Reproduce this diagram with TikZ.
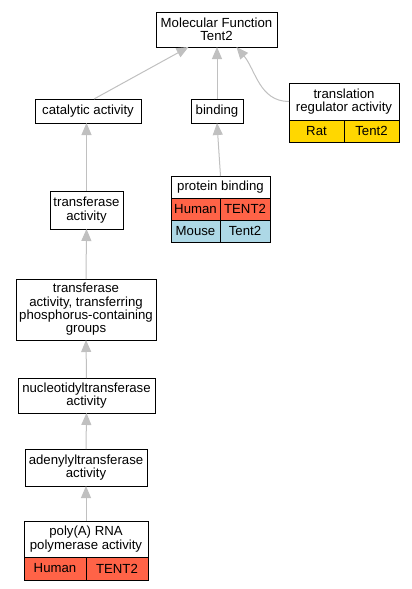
\documentclass[tikz,border=0pt]{standalone}
\usepackage{fontspec}
\setmainfont{Liberation Sans}
\usepackage{xcolor}
\usepackage{tikz}
\usetikzlibrary{positioning, arrows.meta}
\definecolor{HumanRed}{HTML}{FF6347}
\definecolor{MouseBlue}{HTML}{ADD8E6}
\definecolor{RatGold}{HTML}{FFD700}
\definecolor{EdgeGray}{HTML}{C0C0C0}

\begin{document}
\begin{tikzpicture}[x=1pt, y=-1pt,
            term/.style={draw=black, line width=1pt, fill=white, align=center, inner sep=1pt, outer sep=0pt, font=\fontsize{13.2}{13.3}\selectfont},
            cell/.style={draw=black, line width=1pt, align=center, inner sep=1pt, outer sep=0pt, minimum height=22pt, font=\fontsize{13.2}{13.3}\selectfont},
            edge/.style={-{Triangle[length=12pt, width=10pt]}, EdgeGray, line width=1pt}
        ]
            \useasboundingbox (0,0) rectangle (412,589);

            % Top part
            \node[term, minimum width=121pt, minimum height=35pt] at (216.5, 29.5) (mf) {Molecular Function\\Tent2};
            \node[term, minimum width=106pt, minimum height=24pt] at (88, 111) (cat) {catalytic activity};
            \node[term, minimum width=52pt, minimum height=24pt] at (217, 111) (bind) {binding};

            % translation regulator (Rat)
            \node[term, minimum width=110pt, minimum height=37pt] at (344, 101.5) (trh) {translation\\regulator activity};
            \node[cell, fill=RatGold, minimum width=55pt, below right=0pt and 0pt of trh.south west] (trrat) {Rat};
            \node[cell, fill=RatGold, minimum width=55pt, right=0pt of trrat] (trgene) {Tent2};

            % protein binding (Human, Mouse)
            \node[term, minimum width=99pt, minimum height=22pt] at (220.5, 187) (pbh) {protein binding};
            \node[cell, fill=HumanRed, minimum width=49pt, below right=0pt and 0pt of pbh.south west] (pbhum) {Human};
            \node[cell, fill=HumanRed, minimum width=50pt, right=0pt of pbhum] (pbhumg) {TENT2};
            \node[cell, fill=MouseBlue, minimum width=49pt, below=0pt of pbhum] (pbmou) {Mouse};
            \node[cell, fill=MouseBlue, minimum width=50pt, right=0pt of pbmou] (pbmoug) {Tent2};

            % Left chain
            \node[term, minimum width=73pt, minimum height=38pt] at (86.5, 210) (tr) {transferase\\activity};
            \node[term, minimum width=140pt, minimum height=61pt] at (86, 309.5) (trp) {transferase\\activity, transferring\\phosphorus-containing\\groups};
            \node[term, minimum width=137pt, minimum height=35pt] at (86.5, 395.5) (nuc) {nucleotidyltransferase\\activity};
            \node[term, minimum width=122pt, minimum height=37pt] at (86, 467.5) (ade) {adenylyltransferase\\activity};
            \node[term, minimum width=124pt, minimum height=36pt] at (86, 539) (polh) {poly(A) RNA\\polymerase activity};
            \node[cell, fill=HumanRed, minimum width=62pt, minimum height=23pt, below right=0pt and 0pt of polh.south west] (polhum) {Human};
            \node[cell, fill=HumanRed, minimum width=62pt, minimum height=23pt, right=0pt of polhum] (polhumg) {TENT2};

            % Edges
            \draw[edge] ([xshift=6pt]cat.north) -- ([xshift=-28pt]mf.south);
            \draw[edge] (bind.north) -- (bind.north |- mf.south);
            \draw[edge] (trh.west) to[out=180, in=-50] ([xshift=20pt]mf.south);
            \draw[edge] (pbh.north) -- (bind.south);
            \draw[edge] (tr.north) -- (tr.north |- cat.south);
            \draw[edge] (trp.north) -- (tr.south);
            \draw[edge] (nuc.north) -- (trp.south);
            \draw[edge] (ade.north) -- (nuc.south);
            \draw[edge] (polh.north) -- (ade.south);

        \end{tikzpicture}
\end{document}
